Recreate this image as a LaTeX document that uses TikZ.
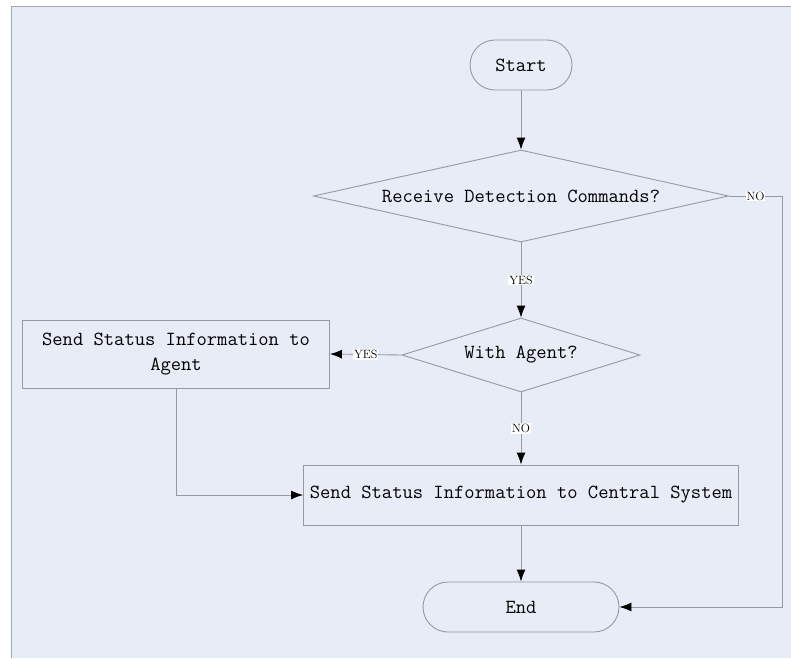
\documentclass[tikz,border=0pt]{standalone}
\usepackage{fontspec}
\usepackage{tikz}
\usetikzlibrary{arrows.meta}
\usetikzlibrary{shapes.geometric}
\definecolor{pagebg}{RGB}{231,236,247}
\definecolor{linegray}{RGB}{150,152,162}
\def\thickness{0.9pt}
\tikzstyle{stepbox}=[rectangle, draw=linegray, line width=\thickness, align=center, font=\fontsize{20}{25}\ttfamily]
\tikzstyle{terminal}=[stepbox, rounded corners=25pt, minimum height=50pt]
\tikzstyle{decision}=[diamond, draw=linegray, line width=\thickness, inner sep=0pt, font=\fontsize{20}{25}\ttfamily]
\tikzstyle{lbl}=[fill=white, inner sep=1pt, font=\fontsize{12}{13}\selectfont]
\tikzstyle{flow}=[draw=linegray, line width=\thickness, -{Latex[length=12pt,width=9pt,color=black]}]

\begin{document}
\begin{tikzpicture}[x=1pt, y=-1pt]
\useasboundingbox (0,0) rectangle (791,658);
\fill[pagebg] (11,7) rectangle (791,658);
\draw[gray!70, line width=1pt] (11,658) -- (11,7) -- (791,7);
\node [terminal, minimum width=102pt] (start) at (521,65) {Start};
\node [decision, aspect=4.5, minimum width=415pt, minimum height=92pt] (recv) at (521,196) {Receive Detection Commands?};
\node [decision, aspect=3.2, minimum width=238pt, minimum height=74pt] (agent) at (521,355) {With Agent?};
\node [stepbox, minimum width=307pt, minimum height=68pt] (toagent) at (176,354) {Send Status Information to\\Agent};
\node [stepbox, minimum width=435pt, minimum height=60pt] (tocentral) at (521,495) {Send Status Information to Central System};
\node [terminal, minimum width=196pt] (end) at (521,607) {End};
\coordinate (noturn) at (782,196);
\draw[flow] (start) -- (recv);
\draw[flow] (recv.east) -- node[lbl] {NO} (noturn) |- (end.east);
\draw[flow] (recv.south) -- node[lbl] {YES} (agent.north);
\draw[flow] (agent.west) -- node[lbl] {YES} (toagent.east);
\draw[flow] (agent.south) -- node[lbl] {NO} (tocentral.north);
\draw[flow] (toagent.south) |- (tocentral.west);
\draw[flow] (tocentral) -- (end);
\end{tikzpicture}
\end{document}
